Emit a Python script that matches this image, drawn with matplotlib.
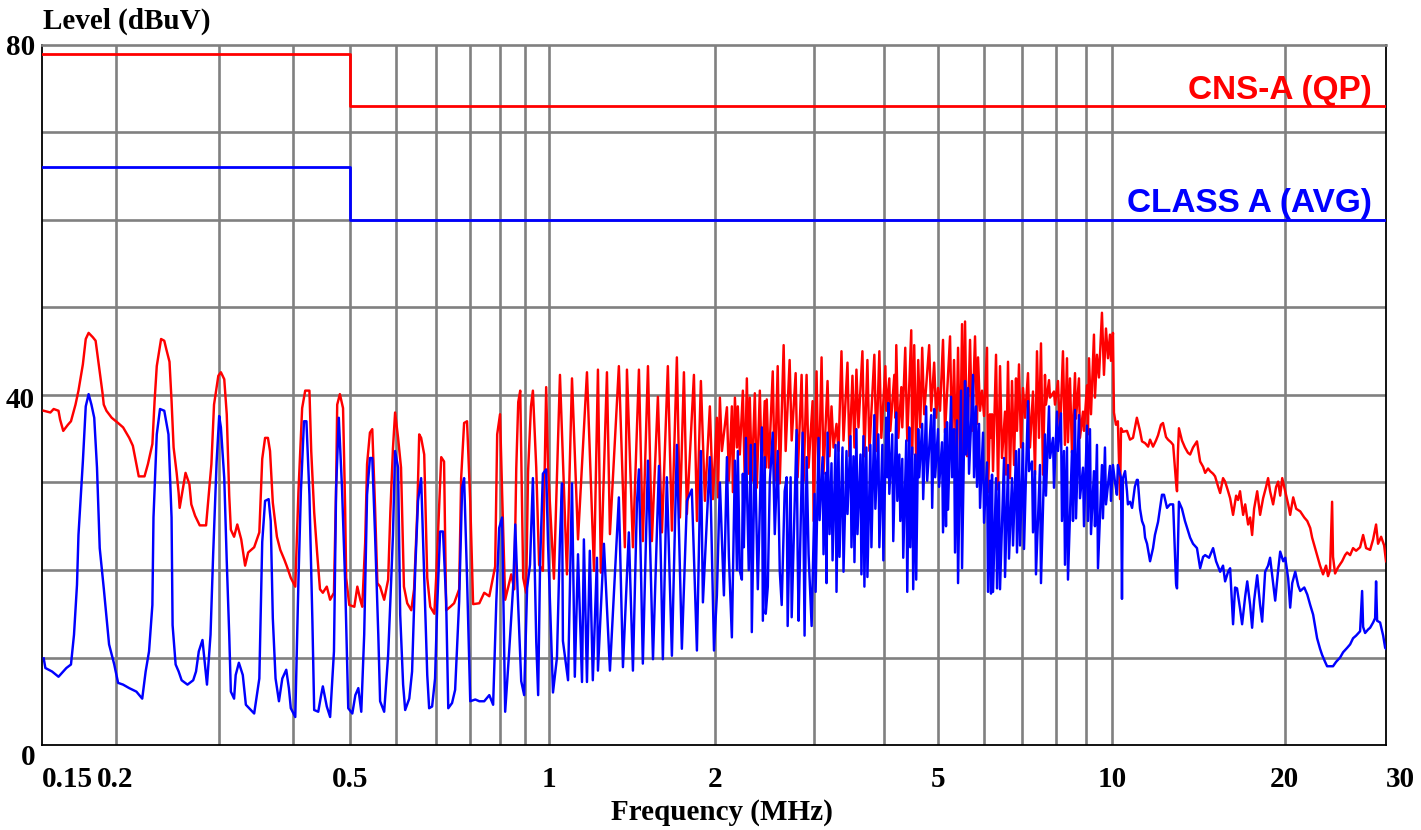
import numpy as np
import matplotlib
matplotlib.use("Agg")
import matplotlib.pyplot as plt
from matplotlib.scale import FuncScale

# receiver frequency ruler: the decades are not drawn evenly on this plot
ruler_mhz = [0.15, 0.9, 1.0, 2.0, 5.0, 10.0, 30.0]
ruler_frac = [0.0, 0.3408, 0.3772, 0.5007, 0.6667, 0.7961, 1.0]

grid_mhz = [0.2, 0.3, 0.4, 0.5, 0.6, 0.7, 0.8, 0.9, 0.95, 1, 2, 3, 4, 5, 6, 7, 8, 9, 10, 20]
grid_db = [10, 20, 30, 40, 50, 60, 70]
tick_mhz = [0.15, 0.2, 0.5, 1, 2, 5, 10, 20, 30]
tick_text = ["0.15", "0.2", "0.5", "1", "2", "5", "10", "20", "30"]
level_ticks = [0, 40, 80]

# limit lines
qp_limit_mhz = [0.15, 0.5, 0.5, 30]
qp_limit_db = [79, 79, 73, 73]
avg_limit_mhz = [0.15, 0.5, 0.5, 30]
avg_limit_db = [66, 66, 60, 60]

# peak / QP scan (MHz, dBuV)
peak_a = [(0.151, 38.2), (0.155, 38.0), (0.157, 38.4), (0.160, 38.2), (0.161, 37.2), (0.163, 35.9), (0.166, 36.6),
          (0.168, 37.0), (0.171, 38.9), (0.173, 40.5), (0.176, 43.5), (0.178, 46.4), (0.180, 47.1), (0.183, 46.6),
          (0.185, 46.2), (0.187, 43.8), (0.190, 40.3), (0.191, 38.9), (0.193, 38.2), (0.197, 37.4), (0.202, 36.8),
          (0.206, 36.3), (0.211, 35.1), (0.214, 34.2), (0.217, 32.1), (0.219, 30.7), (0.224, 30.7), (0.227, 32.1),
          (0.231, 34.4), (0.233, 39.3), (0.235, 43.3), (0.239, 46.4), (0.242, 46.2), (0.244, 45.2), (0.247, 43.8),
          (0.249, 39.3), (0.251, 34.0), (0.254, 31.1), (0.256, 28.8), (0.257, 27.1), (0.260, 29.1), (0.263, 31.1),
          (0.267, 29.8), (0.269, 27.5), (0.273, 26.2), (0.278, 25.1), (0.285, 25.1), (0.288, 28.6), (0.291, 32.1),
          (0.294, 38.9), (0.299, 42.2), (0.302, 42.6), (0.306, 41.8), (0.309, 37.8), (0.312, 28.5), (0.314, 24.6),
          (0.318, 23.8), (0.322, 25.2), (0.327, 23.5), (0.332, 20.5), (0.336, 22.0), (0.344, 22.6), (0.351, 24.3),
          (0.355, 32.7), (0.359, 35.1), (0.363, 35.1), (0.366, 33.6), (0.370, 27.7), (0.376, 23.8), (0.381, 22.3),
          (0.387, 21.2), (0.391, 20.4), (0.397, 19.1), (0.404, 18.1), (0.409, 28.9), (0.415, 38.5), (0.420, 40.5),
          (0.427, 40.5), (0.430, 33.6), (0.435, 26.6), (0.440, 22.0), (0.445, 17.8), (0.450, 17.4), (0.457, 18.1),
          (0.463, 16.6), (0.470, 17.4), (0.474, 29.6), (0.476, 38.9), (0.481, 40.1), (0.487, 38.5), (0.491, 27.1),
          (0.493, 19.1), (0.499, 16.0)]
peak_b = [(0.509, 15.8), (0.515, 18.1), (0.521, 16.6), (0.525, 15.8), (0.531, 23.1), (0.535, 32.1), (0.541, 35.7),
          (0.546, 36.1), (0.552, 27.1), (0.557, 18.5), (0.563, 18.1), (0.572, 16.6), (0.581, 18.9), (0.586, 26.6),
          (0.592, 33.9), (0.597, 38.0), (0.604, 35.1), (0.611, 31.7), (0.618, 18.1), (0.626, 16.2), (0.636, 15.4),
          (0.643, 17.8), (0.651, 26.6), (0.656, 35.5), (0.661, 35.1), (0.669, 33.2), (0.677, 19.1), (0.685, 15.8),
          (0.696, 15.0), (0.701, 19.1), (0.709, 27.1), (0.715, 32.9), (0.723, 32.4), (0.729, 15.4), (0.741, 15.8),
          (0.752, 16.2), (0.767, 17.8), (0.773, 30.5), (0.782, 36.8), (0.791, 37.0), (0.801, 27.8), (0.810, 16.1),
          (0.830, 16.2), (0.846, 17.4), (0.863, 17.0), (0.883, 20.4), (0.890, 35.5), (0.900, 37.8), (0.904, 28.9),
          (0.910, 16.6), (0.922, 19.5), (0.928, 17.8), (0.932, 31.6), (0.936, 39.2), (0.940, 40.5), (0.946, 19.1),
          (0.952, 17.4), (0.956, 31.2), (0.962, 38.7), (0.966, 40.5), (0.973, 31.7), (0.979, 20.6), (0.987, 19.9),
          (0.994, 40.9), (0.998, 31.7), (1.021, 19.0), (1.047, 42.3), (1.078, 19.5), (1.101, 41.9), (1.129, 23.5),
          (1.172, 42.6), (1.207, 19.9), (1.227, 42.9), (1.242, 19.7), (1.274, 42.6), (1.290, 24.1), (1.339, 43.3),
          (1.373, 22.6), (1.385, 42.9), (1.420, 22.6), (1.456, 42.9), (1.480, 23.3), (1.512, 43.3), (1.537, 23.3),
          (1.576, 39.8), (1.603, 24.3), (1.643, 43.3), (1.671, 24.5), (1.706, 44.3), (1.728, 26.0), (1.757, 42.6),
          (1.779, 26.4), (1.832, 42.3), (1.855, 25.6), (1.886, 41.6), (1.918, 27.9), (1.958, 38.7), (1.983, 28.1)]
peak_c = [(2.016, 37.4), (2.025, 28.3), (2.041, 39.7), (2.058, 33.6), (2.101, 38.6), (2.118, 30.2), (2.144, 38.7),
          (2.153, 28.9), (2.171, 39.7), (2.189, 34.0), (2.197, 38.7), (2.215, 33.2), (2.243, 40.5), (2.261, 29.8),
          (2.280, 41.9), (2.298, 31.0), (2.308, 39.7), (2.327, 30.2), (2.356, 40.2), (2.375, 29.4), (2.405, 40.5),
          (2.425, 31.0), (2.454, 39.3), (2.464, 31.7), (2.474, 39.5), (2.495, 31.7), (2.536, 42.7), (2.557, 30.2),
          (2.588, 43.3), (2.610, 29.9), (2.652, 45.7), (2.674, 33.6), (2.718, 44.0), (2.741, 34.8), (2.786, 42.5),
          (2.809, 30.6), (2.855, 42.3), (2.879, 30.2), (2.914, 42.3), (2.938, 31.7), (2.987, 39.3), (2.999, 25.6),
          (3.036, 42.7), (3.061, 28.9), (3.099, 44.3), (3.124, 31.0), (3.176, 41.6), (3.202, 33.0), (3.228, 38.7),
          (3.255, 34.0), (3.295, 36.7), (3.322, 33.6), (3.363, 45.0), (3.391, 34.8), (3.447, 43.7), (3.475, 33.0),
          (3.518, 42.2), (3.547, 34.0), (3.576, 42.9), (3.606, 36.3), (3.665, 45.0), (3.695, 33.0), (3.741, 44.0),
          (3.772, 33.6), (3.849, 44.6), (3.881, 33.6), (3.929, 45.0), (3.961, 35.1), (4.027, 43.3), (4.043, 38.2),
          (4.093, 41.9), (4.110, 35.9), (4.178, 42.3), (4.195, 37.4), (4.212, 45.7), (4.247, 35.1), (4.300, 40.9),
          (4.317, 36.3), (4.370, 45.4), (4.406, 34.8), (4.479, 47.4), (4.497, 33.2), (4.534, 45.7), (4.571, 32.3),
          (4.609, 44.0), (4.647, 36.3), (4.685, 45.4), (4.723, 37.8), (4.821, 45.7), (4.861, 38.2), (4.921, 43.7),
          (4.961, 37.4)]
peak_d = [(5.000, 40.8), (5.040, 38.2), (5.100, 46.3), (5.141, 35.7), (5.245, 46.7), (5.287, 34.0), (5.329, 44.0),
          (5.372, 32.5), (5.415, 45.4), (5.458, 32.0), (5.502, 48.1), (5.524, 33.2), (5.568, 48.4), (5.613, 33.0),
          (5.680, 46.3), (5.725, 35.9), (5.794, 46.7), (5.840, 36.7), (5.864, 44.3), (5.911, 38.2), (5.958, 40.5),
          (6.006, 37.6), (6.078, 45.4), (6.102, 28.9), (6.151, 37.8), (6.175, 35.1), (6.200, 37.8), (6.225, 31.3),
          (6.300, 44.6), (6.350, 29.2), (6.401, 43.3), (6.452, 32.8), (6.530, 38.1), (6.556, 30.9), (6.608, 43.8),
          (6.661, 30.5), (6.714, 41.6), (6.768, 32.0), (6.822, 41.9), (6.849, 35.9), (6.904, 43.5), (6.959, 34.0),
          (7.015, 40.8), (7.071, 37.4), (7.156, 42.5), (7.213, 34.0), (7.300, 40.4), (7.358, 30.9), (7.417, 45.0),
          (7.476, 35.1), (7.536, 45.9), (7.596, 30.9), (7.657, 42.3), (7.687, 38.9), (7.781, 41.7), (7.812, 39.7),
          (7.937, 40.4), (7.969, 38.9), (8.065, 41.6), (8.129, 35.1), (8.226, 45.0), (8.292, 34.3), (8.359, 44.2),
          (8.392, 34.6), (8.459, 41.9), (8.527, 33.4), (8.630, 42.5), (8.665, 37.3), (8.768, 41.9), (8.803, 35.1),
          (8.910, 38.1), (8.945, 35.9), (9.052, 41.1), (9.088, 35.5), (9.125, 44.2), (9.198, 37.8), (9.308, 46.9),
          (9.345, 39.7), (9.420, 44.6), (9.495, 42.0), (9.609, 49.4), (9.686, 42.3), (9.764, 47.6), (9.842, 44.2),
          (9.921, 46.9), (9.961, 43.9)]
peak_e = [(10.04, 47.1), (10.08, 38.0), (10.16, 36.6), (10.24, 37.0), (10.33, 28.1), (10.37, 36.2), (10.45, 35.8),
          (10.62, 35.9), (10.75, 34.9), (10.88, 35.1), (11.05, 37.4), (11.19, 35.9), (11.28, 34.7), (11.42, 34.5),
          (11.56, 34.1), (11.65, 34.9), (11.79, 34.1), (11.93, 34.8), (12.03, 35.4), (12.17, 36.6), (12.27, 36.8),
          (12.42, 35.2), (12.52, 34.9), (12.67, 34.6), (12.78, 34.3), (12.93, 30.0), (12.98, 29.0), (13.03, 33.6),
          (13.08, 36.2), (13.24, 34.8), (13.40, 34.0), (13.56, 33.4), (13.68, 33.2), (13.84, 34.0), (14.06, 34.7),
          (14.24, 32.4), (14.41, 31.8), (14.53, 31.1), (14.70, 31.6), (14.82, 31.3), (15.00, 31.0), (15.12, 30.7),
          (15.31, 29.5), (15.43, 28.8), (15.61, 30.5), (15.74, 30.1), (15.93, 29.0), (16.06, 28.2), (16.25, 26.3),
          (16.45, 28.5), (16.58, 28.0), (16.71, 29.0), (16.92, 26.3), (17.06, 27.5), (17.26, 25.2), (17.40, 26.0),
          (17.54, 24.0), (17.68, 27.0), (17.90, 29.0), (18.11, 26.3), (18.33, 28.2), (18.55, 29.5), (18.70, 30.5),
          (18.85, 29.0), (19.08, 27.5), (19.31, 29.5), (19.47, 30.1), (19.63, 28.5), (19.79, 30.5), (20.03, 29.0),
          (20.27, 27.5), (20.43, 26.3), (20.68, 28.3), (20.93, 27.0), (21.27, 26.7), (21.62, 26.0), (21.88, 25.6),
          (22.14, 24.8), (22.31, 23.7), (22.58, 22.5), (22.76, 21.7), (23.03, 20.5), (23.31, 19.5), (23.59, 20.5),
          (23.78, 19.3), (23.97, 20.0), (24.17, 27.8), (24.26, 21.5), (24.46, 19.6), (24.75, 20.3), (25.16, 21.0),
          (25.46, 21.7), (25.67, 22.0), (25.98, 21.7), (26.29, 22.5), (26.61, 22.2), (27.04, 22.6), (27.37, 24.0),
          (27.70, 22.5), (28.15, 22.3), (28.49, 23.5), (28.83, 25.2), (29.06, 23.0), (29.42, 23.8), (29.78, 22.8),
          (30.0, 21.0)]

# average scan (MHz, dBuV)
avg_a = [(0.151, 9.9), (0.152, 8.8), (0.156, 8.4), (0.160, 7.8), (0.165, 8.8), (0.168, 9.2), (0.170, 12.6),
         (0.172, 18.3), (0.173, 24.0), (0.176, 32.4), (0.178, 38.7), (0.180, 40.1), (0.182, 38.9), (0.184, 37.4),
         (0.186, 31.7), (0.188, 22.5), (0.191, 17.9), (0.195, 11.5), (0.199, 9.2), (0.202, 7.1), (0.206, 6.9),
         (0.211, 6.5), (0.217, 6.1), (0.222, 5.3), (0.225, 8.4), (0.228, 10.7), (0.231, 16.0), (0.232, 26.0),
         (0.235, 35.5), (0.238, 38.4), (0.242, 38.2), (0.246, 35.5), (0.249, 26.0), (0.250, 13.7), (0.253, 9.2),
         (0.256, 8.4), (0.259, 7.4), (0.265, 6.9), (0.271, 7.4), (0.274, 8.4), (0.277, 10.7), (0.281, 12.0),
         (0.283, 9.9), (0.286, 6.9), (0.290, 12.6), (0.293, 21.8), (0.297, 32.4), (0.300, 37.6), (0.302, 36.3),
         (0.306, 30.5), (0.309, 21.0), (0.312, 12.6), (0.314, 6.1), (0.318, 5.3), (0.320, 8.0), (0.324, 9.4),
         (0.329, 8.0), (0.333, 4.6), (0.344, 3.6), (0.351, 7.6), (0.355, 23.2), (0.359, 27.9), (0.364, 28.1),
         (0.367, 25.6), (0.370, 14.5), (0.374, 7.6), (0.379, 5.0), (0.384, 7.6), (0.390, 8.6), (0.394, 6.5),
         (0.397, 4.2), (0.404, 3.2), (0.409, 18.7), (0.413, 29.0), (0.418, 37.0), (0.422, 37.0), (0.427, 28.6),
         (0.432, 14.1), (0.435, 4.0), (0.442, 3.8), (0.447, 5.7), (0.450, 6.7), (0.457, 4.4), (0.463, 3.2),
         (0.470, 10.7), (0.474, 29.4), (0.479, 37.4), (0.485, 29.4), (0.491, 18.7), (0.497, 4.2)]
avg_b = [(0.505, 3.6), (0.511, 5.7), (0.517, 6.5), (0.523, 3.8), (0.529, 12.6), (0.535, 28.6), (0.541, 32.8),
         (0.546, 32.8), (0.552, 24.0), (0.559, 12.6), (0.563, 5.0), (0.572, 3.8), (0.581, 10.3), (0.586, 16.4),
         (0.592, 24.0), (0.597, 33.6), (0.604, 31.7), (0.609, 14.9), (0.616, 6.9), (0.621, 4.0), (0.631, 5.3),
         (0.638, 8.4), (0.646, 20.2), (0.653, 27.9), (0.661, 30.5), (0.669, 19.1), (0.677, 8.0), (0.682, 4.2),
         (0.690, 4.4), (0.698, 7.6), (0.704, 16.0), (0.712, 24.4), (0.720, 24.4), (0.729, 16.4), (0.735, 4.2),
         (0.746, 4.8), (0.755, 6.3), (0.767, 16.4), (0.776, 29.4), (0.782, 30.5), (0.791, 19.1), (0.801, 5.0),
         (0.817, 5.2), (0.830, 5.0), (0.846, 5.0), (0.863, 5.7), (0.876, 4.6), (0.887, 16.4), (0.897, 24.8),
         (0.904, 26.0), (0.910, 3.8), (0.917, 9.9), (0.926, 18.3), (0.930, 25.2), (0.935, 17.2), (0.942, 7.3),
         (0.948, 5.7), (0.954, 17.9), (0.960, 20.6), (0.966, 30.5), (0.973, 11.8), (0.977, 5.7), (0.981, 20.5),
         (0.987, 31.0), (0.994, 31.5), (0.998, 23.0), (1.017, 6.0), (1.034, 10.0), (1.047, 23.5), (1.056, 29.9),
         (1.060, 11.9), (1.083, 7.4), (1.101, 29.9), (1.114, 7.8), (1.129, 21.8), (1.148, 7.2), (1.157, 23.5),
         (1.172, 7.2), (1.186, 22.2), (1.201, 7.4), (1.222, 21.4), (1.227, 8.5), (1.258, 23.0), (1.290, 8.5),
         (1.339, 28.3), (1.362, 8.9), (1.396, 24.3), (1.420, 8.5), (1.444, 27.7), (1.456, 31.5), (1.480, 9.3),
         (1.512, 32.5), (1.544, 9.8), (1.583, 31.9), (1.609, 9.8), (1.636, 30.6), (1.671, 10.2), (1.706, 34.3),
         (1.742, 11.0), (1.779, 27.9), (1.816, 29.2), (1.855, 10.8), (1.886, 33.6), (1.902, 16.3), (1.958, 32.9),
         (1.992, 10.8)]
avg_c = [(2.016, 17.1), (2.041, 30.0), (2.075, 17.1), (2.101, 32.9), (2.118, 21.5), (2.144, 12.3), (2.171, 32.5),
         (2.189, 20.0), (2.197, 33.6), (2.215, 19.9), (2.234, 18.9), (2.243, 31.0), (2.252, 22.6), (2.271, 35.1),
         (2.298, 20.0), (2.317, 34.3), (2.327, 12.9), (2.356, 34.4), (2.385, 17.8), (2.425, 36.3), (2.435, 14.2),
         (2.454, 32.9), (2.464, 15.0), (2.485, 18.1), (2.505, 30.0), (2.536, 35.7), (2.557, 24.1), (2.588, 33.6),
         (2.610, 19.9), (2.631, 16.0), (2.663, 29.0), (2.685, 30.6), (2.696, 13.6), (2.729, 30.6), (2.741, 14.6),
         (2.797, 36.0), (2.809, 21.8), (2.820, 14.2), (2.867, 35.7), (2.879, 24.1), (2.890, 12.5), (2.914, 32.9),
         (2.938, 21.8), (2.975, 13.6), (3.011, 28.7), (3.024, 17.5), (3.061, 35.1), (3.074, 25.7), (3.112, 32.9),
         (3.124, 21.8), (3.150, 31.1), (3.163, 18.5), (3.176, 35.7), (3.202, 24.1), (3.228, 32.2), (3.242, 21.1),
         (3.282, 34.3), (3.295, 17.5), (3.322, 34.6), (3.336, 21.5), (3.377, 34.0), (3.391, 19.8), (3.433, 33.6),
         (3.447, 26.4), (3.490, 35.3), (3.504, 22.6), (3.533, 33.0), (3.547, 20.9), (3.576, 36.1), (3.591, 24.1),
         (3.636, 33.2), (3.650, 19.5), (3.680, 35.3), (3.695, 18.1), (3.725, 34.0), (3.741, 19.2), (3.787, 34.3),
         (3.803, 22.6), (3.849, 37.7), (3.865, 27.0), (3.913, 35.5), (3.929, 22.6), (3.978, 34.3), (3.994, 21.1),
         (4.043, 37.4), (4.060, 30.6), (4.077, 39.1), (4.093, 28.7), (4.143, 35.5), (4.160, 23.3), (4.212, 38.0),
         (4.230, 27.9), (4.265, 33.2), (4.282, 25.6), (4.317, 32.7), (4.334, 21.4), (4.388, 34.8), (4.406, 17.5),
         (4.442, 36.3), (4.460, 22.6), (4.497, 34.0), (4.515, 17.8), (4.553, 33.2), (4.571, 18.9), (4.609, 36.1),
         (4.628, 30.6), (4.685, 36.7), (4.704, 28.1), (4.762, 38.7), (4.782, 30.2), (4.861, 37.7), (4.881, 27.1),
         (4.921, 38.4), (4.941, 30.6)]
avg_d = [(5.000, 36.1), (5.020, 29.5), (5.080, 34.6), (5.100, 24.3), (5.141, 36.1), (5.161, 25.0), (5.182, 36.9),
         (5.203, 26.9), (5.266, 39.8), (5.287, 30.6), (5.329, 36.1), (5.350, 22.0), (5.393, 37.1), (5.415, 18.5),
         (5.480, 40.5), (5.502, 20.2), (5.568, 41.6), (5.590, 33.2), (5.635, 40.8), (5.657, 31.0), (5.748, 42.3),
         (5.771, 30.6), (5.817, 38.7), (5.840, 29.5), (5.887, 36.7), (5.911, 27.1), (5.982, 35.7), (6.006, 25.4),
         (6.078, 32.3), (6.102, 17.5), (6.151, 30.2), (6.175, 17.3), (6.200, 30.9), (6.225, 17.5), (6.300, 30.5),
         (6.325, 17.9), (6.375, 30.0), (6.401, 17.8), (6.504, 32.8), (6.530, 19.2), (6.608, 32.0), (6.634, 21.3),
         (6.714, 30.5), (6.741, 22.8), (6.822, 33.6), (6.849, 22.0), (6.904, 33.8), (6.932, 22.8), (7.015, 34.5),
         (7.043, 22.4), (7.156, 39.3), (7.185, 31.3), (7.271, 32.4), (7.300, 24.3), (7.358, 31.3), (7.387, 19.5),
         (7.506, 32.0), (7.536, 18.5), (7.657, 35.5), (7.687, 28.5), (7.781, 38.7), (7.812, 32.8), (7.906, 35.1),
         (7.937, 29.4), (8.032, 38.1), (8.065, 33.6), (8.161, 37.9), (8.193, 25.6), (8.259, 33.6), (8.292, 20.6),
         (8.359, 34.0), (8.392, 18.9), (8.527, 33.6), (8.561, 25.6), (8.630, 38.3), (8.665, 25.9), (8.768, 37.7),
         (8.803, 28.2), (8.910, 31.7), (8.945, 25.0), (9.052, 36.5), (9.088, 25.6), (9.161, 36.1), (9.198, 24.1),
         (9.308, 31.3), (9.345, 25.0), (9.420, 34.3), (9.458, 20.2), (9.609, 32.0), (9.647, 25.9), (9.725, 34.0),
         (9.764, 27.5), (9.921, 31.9), (9.961, 27.9)]
avg_e = [(10.04, 32.0), (10.12, 30.1), (10.20, 28.6), (10.24, 32.0), (10.37, 30.5), (10.41, 16.7), (10.45, 30.5),
         (10.54, 31.3), (10.62, 29.0), (10.66, 27.5), (10.75, 27.8), (10.84, 27.1), (10.96, 29.5), (11.05, 30.3),
         (11.09, 30.3), (11.19, 27.0), (11.28, 25.6), (11.37, 25.0), (11.42, 23.7), (11.51, 23.0), (11.65, 21.0),
         (11.79, 22.5), (11.88, 24.0), (12.03, 25.5), (12.12, 27.0), (12.22, 28.6), (12.32, 28.6), (12.47, 27.1),
         (12.62, 27.5), (12.72, 27.5), (12.78, 27.5), (12.93, 18.4), (12.98, 17.9), (13.08, 27.8), (13.24, 27.0),
         (13.40, 25.6), (13.56, 24.5), (13.68, 23.7), (13.84, 23.0), (14.06, 22.5), (14.24, 20.2), (14.41, 21.5),
         (14.53, 21.7), (14.76, 21.4), (15.00, 22.5), (15.18, 21.0), (15.43, 19.8), (15.61, 20.5), (15.74, 18.7),
         (15.93, 19.8), (16.06, 20.2), (16.25, 13.8), (16.38, 18.0), (16.51, 17.9), (16.71, 15.6), (16.85, 13.8),
         (17.06, 17.0), (17.20, 18.7), (17.40, 16.0), (17.54, 13.4), (17.68, 16.5), (17.90, 19.4), (18.11, 16.0),
         (18.26, 14.1), (18.48, 19.8), (18.70, 20.5), (18.85, 21.4), (19.08, 18.5), (19.24, 16.5), (19.47, 20.0),
         (19.63, 22.1), (19.87, 21.0), (20.03, 21.4), (20.27, 19.0), (20.43, 15.7), (20.60, 18.5), (20.85, 19.8),
         (21.10, 18.2), (21.27, 17.6), (21.62, 18.0), (21.88, 17.2), (22.14, 16.0), (22.40, 14.9), (22.76, 12.2),
         (23.03, 11.0), (23.22, 10.3), (23.50, 9.5), (23.69, 9.0), (23.97, 9.0), (24.26, 9.0), (24.56, 9.5),
         (24.96, 10.0), (25.26, 10.6), (25.67, 11.1), (25.98, 11.5), (26.29, 12.2), (26.61, 12.5), (27.04, 13.0),
         (27.26, 17.6), (27.37, 13.5), (27.59, 12.8), (27.92, 13.2), (28.15, 13.4), (28.49, 14.0), (28.72, 14.5),
         (28.83, 18.7), (28.95, 14.2), (29.30, 14.0), (29.66, 12.5), (29.90, 11.1), (30.0, 11.0)]

RED = "#ff0000"
BLUE = "#0000ff"
GRID = "#808080"
SERIF = ["Liberation Serif", "DejaVu Serif"]

lg_knots = np.log10(ruler_mhz)
s_lo = (ruler_frac[1] - ruler_frac[0]) / (lg_knots[1] - lg_knots[0])
s_hi = (ruler_frac[-1] - ruler_frac[-2]) / (lg_knots[-1] - lg_knots[-2])


def fwd(f):
    lg = np.log10(np.clip(np.asarray(f, dtype=float), 1e-6, None))
    out = np.interp(lg, lg_knots, ruler_frac)
    out = np.where(lg < lg_knots[0], ruler_frac[0] + (lg - lg_knots[0]) * s_lo, out)
    out = np.where(lg > lg_knots[-1], ruler_frac[-1] + (lg - lg_knots[-1]) * s_hi, out)
    return out


def inv(u):
    u = np.asarray(u, dtype=float)
    lg = np.interp(u, ruler_frac, lg_knots)
    lg = np.where(u < ruler_frac[0], lg_knots[0] + (u - ruler_frac[0]) / s_lo, lg)
    lg = np.where(u > ruler_frac[-1], lg_knots[-1] + (u - ruler_frac[-1]) / s_hi, lg)
    return 10 ** lg


def split(*parts):
    pts = [p for part in parts for p in part]
    return [p[0] for p in pts], [p[1] for p in pts]


fig = plt.figure(figsize=(14.21, 8.30), dpi=100)
ax = fig.add_axes([42 / 1421, 85 / 830, 1344 / 1421, 700 / 830])
ax.set_xscale(FuncScale(ax.xaxis, (fwd, inv)))
ax.set_xlim(0.15, 30)
ax.set_ylim(0, 80)

for f in grid_mhz:
    ax.axvline(f, color=GRID, lw=1.9, zorder=1)
for d in grid_db:
    ax.axhline(d, color=GRID, lw=1.9, zorder=1)

pk_f, pk_db = split(peak_a, peak_b, peak_c, peak_d, peak_e)
av_f, av_db = split(avg_a, avg_b, avg_c, avg_d, avg_e)
ax.plot(pk_f, pk_db, color=RED, lw=1.75, zorder=3)
ax.plot(av_f, av_db, color=BLUE, lw=1.75, zorder=4)

ax.plot(qp_limit_mhz, qp_limit_db, color=RED, lw=2.0, zorder=5)
ax.plot(avg_limit_mhz, avg_limit_db, color=BLUE, lw=2.0, zorder=5)

ax.text(0.9896, qp_limit_db[-1] + 0.8, "CNS-A (QP)", transform=ax.get_yaxis_transform(),
        ha="right", va="baseline", color=RED, fontsize=24, fontweight="bold", family="Liberation Sans")
ax.text(0.9896, avg_limit_db[-1] + 0.9, "CLASS A (AVG)", transform=ax.get_yaxis_transform(),
        ha="right", va="baseline", color=BLUE, fontsize=24, fontweight="bold", family="Liberation Sans")

# axis frame
for side in ["left", "bottom", "right"]:
    ax.spines[side].set_color("black")
    ax.spines[side].set_linewidth(1.3)
ax.spines["top"].set_color(GRID)
ax.spines["top"].set_linewidth(1.9)

ax.set_xticks(tick_mhz)
ax.set_xticklabels(tick_text)
ax.xaxis.set_minor_locator(plt.NullLocator())
ax.tick_params(axis="x", length=0, pad=15)
for lab in ax.get_xticklabels():
    lab.set_fontfamily(SERIF)
    lab.set_fontweight("bold")
    lab.set_fontsize(21)
labels = ax.get_xticklabels()
labels[0].set_horizontalalignment("left")
labels[-1].set_horizontalalignment("left")

ax.set_yticks([])
level_shift = {0: -1.4, 40: -0.6, 80: -0.3}
for v in level_ticks:
    ax.text(-0.0052, v + level_shift[v], str(v), transform=ax.get_yaxis_transform(),
            ha="right", va="center", fontsize=21, fontweight="bold", family=SERIF)

fig.text(43 / 1421, 1 - 21 / 830, "Level (dBuV)", ha="left", va="center",
         fontsize=21, fontweight="bold", family=SERIF)
fig.text(722 / 1421, 1 - 812 / 830, "Frequency (MHz)", ha="center", va="center",
         fontsize=21, fontweight="bold", family=SERIF)

fig.savefig("out.png", dpi=100)
